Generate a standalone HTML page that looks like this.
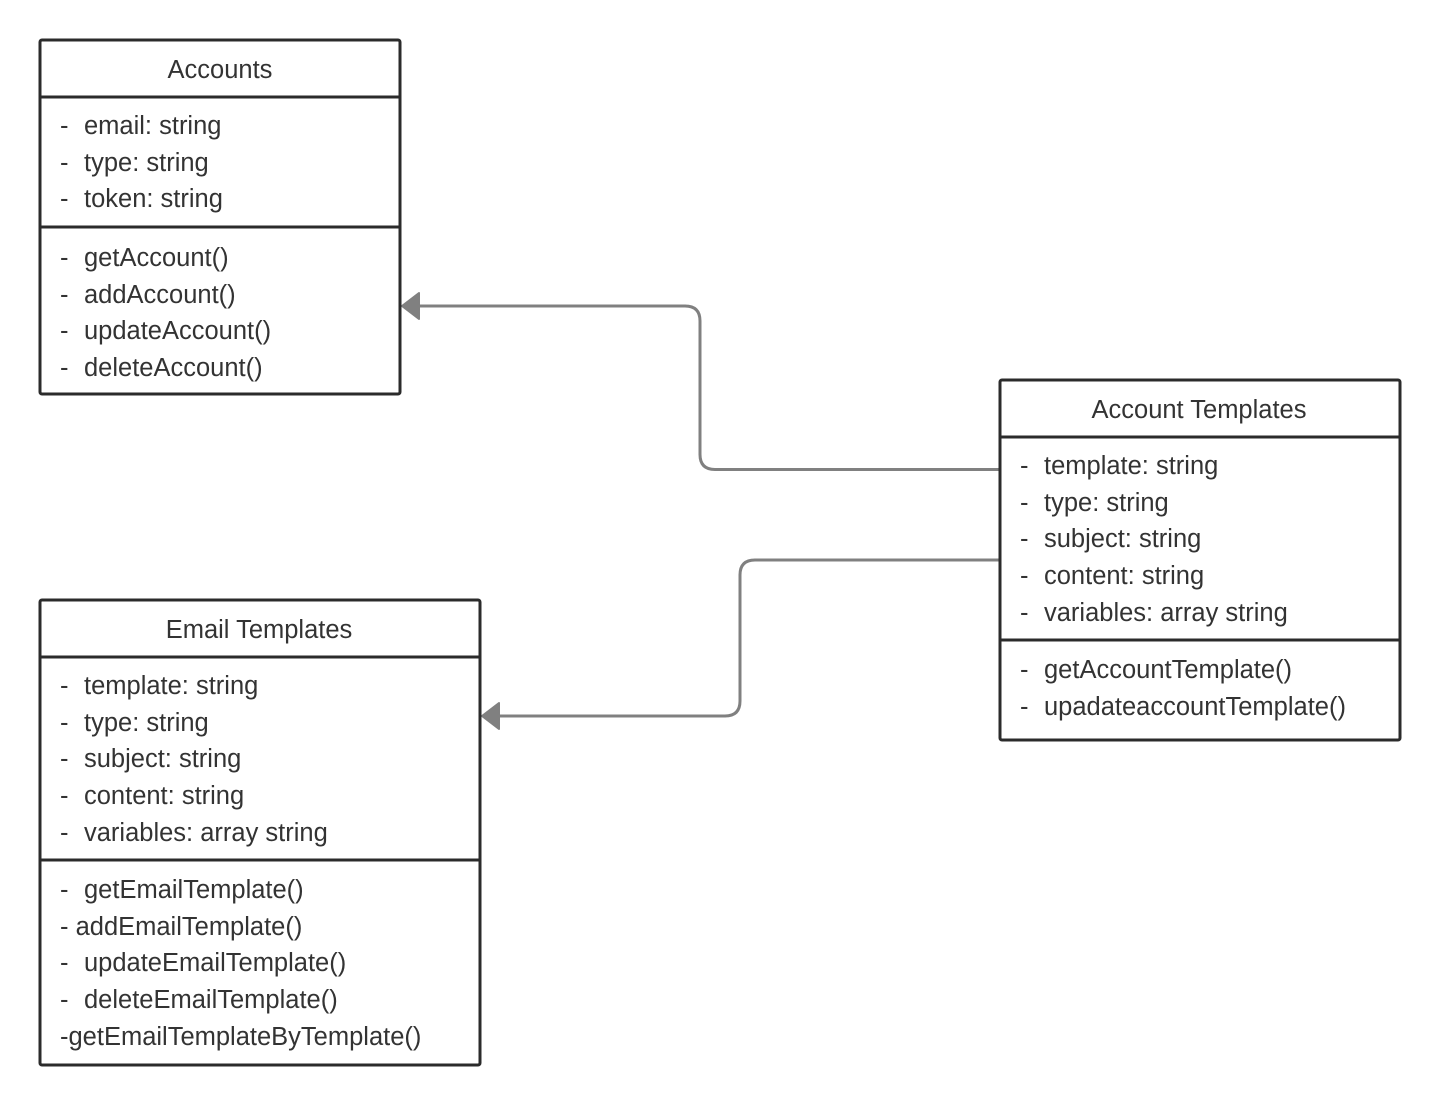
<!DOCTYPE html>
<html><head><meta charset="utf-8"><style>
html,body{margin:0;padding:0;background:#fff;}
svg{display:block;}
text{font-family:"Liberation Sans",sans-serif;font-size:25.5px;fill:#333;}
</style></head><body>
<svg width="1440" height="1105" viewBox="0 0 1440 1105" xmlns="http://www.w3.org/2000/svg">
<g fill="none" stroke="#808080" stroke-width="3">
<path d="M999 469.5 H715 Q700 469.5 700 454.5 V321 Q700 306 685 306 H418"/>
<path d="M999 560 H755 Q740 560 740 575 V701 Q740 716 725 716 H498"/>
</g>
<g fill="#808080" stroke="#808080" stroke-width="2" stroke-linejoin="round">
<path d="M402 306 L419 293 L419 319 Z"/>
<path d="M482 716 L499 703 L499 729 Z"/>
</g>
<g fill="#fff" stroke="#2b2b2b" stroke-width="3">
<rect x="40" y="40" width="360" height="354" rx="2"/>
<line x1="40" y1="97" x2="400" y2="97"/>
<line x1="40" y1="227" x2="400" y2="227"/>
<rect x="1000" y="380" width="400" height="360" rx="2"/>
<line x1="1000" y1="437" x2="1400" y2="437"/>
<line x1="1000" y1="640" x2="1400" y2="640"/>
<rect x="40" y="600" width="440" height="465" rx="2"/>
<line x1="40" y1="657" x2="480" y2="657"/>
<line x1="40" y1="860" x2="480" y2="860"/>
</g>
<text x="220" y="78" text-anchor="middle">Accounts</text>
<g>
<text x="60" y="134">-</text><text x="84" y="134">email: string</text>
<text x="60" y="171">-</text><text x="84" y="171">type: string</text>
<text x="60" y="207">-</text><text x="84" y="207">token: string</text>
<text x="60" y="266">-</text><text x="84" y="266">getAccount()</text>
<text x="60" y="303">-</text><text x="84" y="303">addAccount()</text>
<text x="60" y="339">-</text><text x="84" y="339">updateAccount()</text>
<text x="60" y="376">-</text><text x="84" y="376">deleteAccount()</text>
</g>
<text x="1199" y="418" text-anchor="middle">Account Templates</text>
<g>
<text x="1020" y="474">-</text><text x="1044" y="474">template: string</text>
<text x="1020" y="511">-</text><text x="1044" y="511">type: string</text>
<text x="1020" y="547">-</text><text x="1044" y="547">subject: string</text>
<text x="1020" y="584">-</text><text x="1044" y="584">content: string</text>
<text x="1020" y="621">-</text><text x="1044" y="621">variables: array string</text>
<text x="1020" y="678">-</text><text x="1044" y="678">getAccountTemplate()</text>
<text x="1020" y="715">-</text><text x="1044" y="715">upadateaccountTemplate()</text>
</g>
<text x="259" y="638" text-anchor="middle">Email Templates</text>
<g>
<text x="60" y="694">-</text><text x="84" y="694">template: string</text>
<text x="60" y="731">-</text><text x="84" y="731">type: string</text>
<text x="60" y="767">-</text><text x="84" y="767">subject: string</text>
<text x="60" y="804">-</text><text x="84" y="804">content: string</text>
<text x="60" y="841">-</text><text x="84" y="841">variables: array string</text>
<text x="60" y="898">-</text><text x="84" y="898">getEmailTemplate()</text>
<text x="60" y="935">- addEmailTemplate()</text>
<text x="60" y="971">-</text><text x="84" y="971">updateEmailTemplate()</text>
<text x="60" y="1008">-</text><text x="84" y="1008">deleteEmailTemplate()</text>
<text x="60" y="1045">-getEmailTemplateByTemplate()</text>
</g>
</svg>
</body></html>
